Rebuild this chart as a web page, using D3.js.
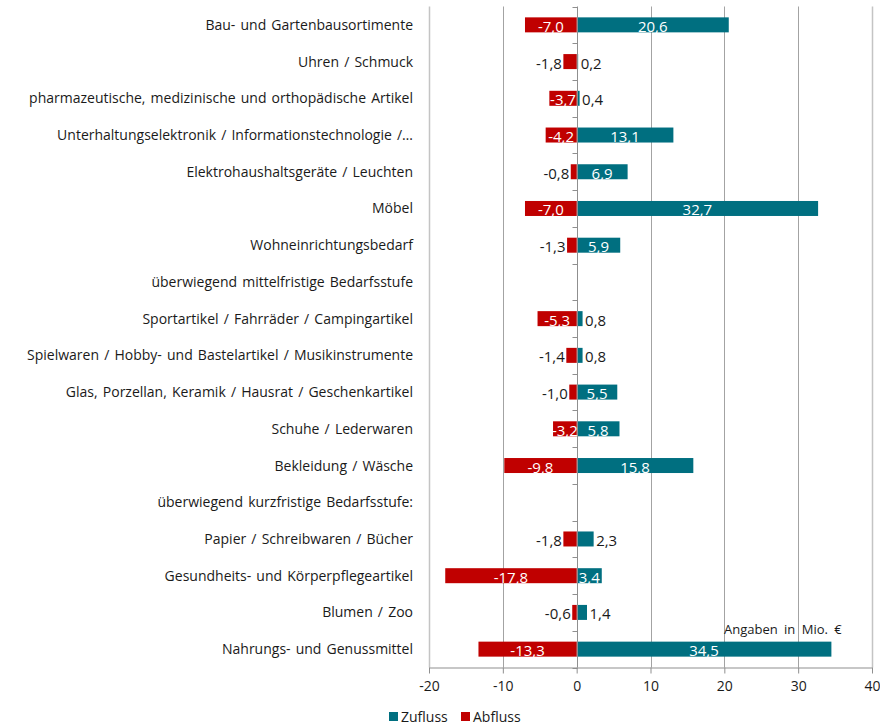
<!DOCTYPE html>
<html>
<head>
<meta charset="utf-8">
<script src="https://cdn.jsdelivr.net/npm/d3@7"></script>
<style>
  html, body { margin: 0; padding: 0; background: #fff; }
  svg { display: block; }
  text { font-family: "Open Sans", "Noto Sans", sans-serif; }
</style>
</head>
<body>
<svg id="chart" width="880" height="726"></svg>
<script>
// Sortimente (von oben nach unten)
const categories = [
  "Bau- und Gartenbausortimente",
  "Uhren / Schmuck",
  "pharmazeutische, medizinische und orthopädische Artikel",
  "Unterhaltungselektronik / Informationstechnologie /…",
  "Elektrohaushaltsgeräte / Leuchten",
  "Möbel",
  "Wohneinrichtungsbedarf",
  "überwiegend mittelfristige Bedarfsstufe",
  "Sportartikel / Fahrräder / Campingartikel",
  "Spielwaren / Hobby- und Bastelartikel / Musikinstrumente",
  "Glas, Porzellan, Keramik / Hausrat / Geschenkartikel",
  "Schuhe / Lederwaren",
  "Bekleidung / Wäsche",
  "überwiegend kurzfristige Bedarfsstufe:",
  "Papier / Schreibwaren / Bücher",
  "Gesundheits- und Körperpflegeartikel",
  "Blumen / Zoo",
  "Nahrungs- und Genussmittel"
];

// Kaufkraftzufluss (Mio. €)
const zufluss = [20.6, 0.2, 0.4, 13.1, 6.9, 32.7, 5.9, null, 0.8, 0.8, 5.5, 5.8, 15.8, null, 2.3, 3.4, 1.4, 34.5];
// Kaufkraftabfluss (Mio. €)
const abfluss = [-7.0, -1.8, -3.7, -4.2, -0.8, -7.0, -1.3, null, -5.3, -1.4, -1.0, -3.2, -9.8, null, -1.8, -17.8, -0.6, -13.3];

const xTicks = [-20, -10, 0, 10, 20, 30, 40];
const seriesNames = ["Zufluss", "Abfluss"];
const unitNote = "Angaben in Mio. €";

const colors = { Zufluss: "#006F80", Abfluss: "#C00000" };

const svg = d3.select("#chart");
const plot = { left: 429, right: 872, top: 6.5, bottom: 667.5 };

const x = d3.scaleLinear().domain([-20, 40]).range([plot.left, plot.right]);
const slot = d3.scaleBand().domain(categories).range([plot.top, plot.bottom]).padding(0);
const barH = 15;
const barY = c => slot(c) + (slot.bandwidth() - barH) / 2;
const midY = c => slot(c) + slot.bandwidth() / 2;

const locale = d3.formatLocale({ decimal: ",", thousands: ".", grouping: [3], currency: ["", " €"], minus: "-" });
const fmt = locale.format(".1f");

// vertical gridlines
svg.append("g")
  .selectAll("line")
  .data(xTicks.filter(t => t !== 0))
  .join("line")
  .attr("x1", d => Math.round(x(d)) + 0.5)
  .attr("x2", d => Math.round(x(d)) + 0.5)
  .attr("y1", plot.top)
  .attr("y2", plot.bottom)
  .attr("stroke", d => (d === -20 || d === 40) ? "#c4c4c4" : "#a3a3a3")
  .attr("stroke-width", d => (d === -20 || d === 40) ? 1.5 : 1);

// bars
const rows = categories.map((c, i) => ({ c, z: zufluss[i], a: abfluss[i] }));

const gBars = svg.append("g");
rows.filter(r => r.z != null).forEach(r => {
  gBars.append("rect")
    .attr("x", x(0))
    .attr("y", barY(r.c))
    .attr("width", x(r.z) - x(0))
    .attr("height", barH)
    .attr("fill", colors.Zufluss);
});
rows.filter(r => r.a != null).forEach(r => {
  gBars.append("rect")
    .attr("x", x(r.a))
    .attr("y", barY(r.c))
    .attr("width", x(0) - x(r.a))
    .attr("height", barH)
    .attr("fill", colors.Abfluss);
});

// zero axis line with category ticks
const zx = Math.round(x(0)) + 0.5;
const gZero = svg.append("g").attr("stroke", "#8f8f8f");
gZero.append("line").attr("x1", zx).attr("x2", zx).attr("y1", plot.top).attr("y2", plot.bottom);
const bounds = categories.map(c => slot(c)).concat([plot.bottom]);
gZero.selectAll("line.tk").data(bounds).join("line").attr("class", "tk")
  .attr("x1", zx - 5).attr("x2", zx)
  .attr("y1", d => Math.round(d) + 0.5).attr("y2", d => Math.round(d) + 0.5);

// value labels
const gLab = svg.append("g").attr("font-size", 15);
function label(v, c) {
  const inside = Math.abs(v) >= 3;
  const t = gLab.append("text").text(fmt(v)).attr("y", midY(c) + 7);
  if (inside) {
    t.attr("x", (x(0) + x(v)) / 2).attr("text-anchor", "middle").attr("fill", "#ffffff");
  } else if (v < 0) {
    t.attr("x", x(v) - 1.5).attr("text-anchor", "end").attr("fill", "#1a1a1a");
  } else {
    t.attr("x", x(v) + 2.5).attr("text-anchor", "start").attr("fill", "#1a1a1a");
  }
}
rows.forEach(r => {
  if (r.a != null) label(r.a, r.c);
  if (r.z != null) label(r.z, r.c);
});

// category labels
svg.append("g")
  .attr("font-size", 14)
  .attr("fill", "#1a1a1a")
  .attr("text-anchor", "end")
  .style("word-spacing", "1.5px")
  .selectAll("text")
  .data(categories)
  .join("text")
  .attr("x", 413)
  .attr("y", d => midY(d) + 5)
  .text(d => d);

// bottom axis
const axisB = svg.append("g")
  .attr("transform", `translate(0,${Math.round(plot.bottom) - 0.5})`)
  .call(d3.axisBottom(x).tickValues(xTicks).tickFormat(d => String(d)).tickSize(6).tickSizeOuter(0));
axisB.select(".domain").attr("stroke", "#8f8f8f");
axisB.selectAll(".tick line").attr("stroke", "#8f8f8f");
axisB.selectAll(".tick text")
  .attr("font-size", 14)
  .attr("font-family", "'Open Sans', 'Noto Sans', sans-serif")
  .attr("fill", "#1a1a1a")
  .attr("dy", "1.05em");

// unit note
svg.append("text")
  .attr("x", 724).attr("y", 634)
  .attr("font-size", 13)
  .attr("fill", "#1a1a1a")
  .style("word-spacing", "3px")
  .text(unitNote);

// legend
const leg = svg.append("g").attr("transform", "translate(389,712)");
const legX = [0, 72];
seriesNames.forEach((s, i) => {
  leg.append("rect").attr("x", legX[i]).attr("y", 0).attr("width", 9).attr("height", 9).attr("fill", colors[s]);
  leg.append("text").attr("x", legX[i] + 12).attr("y", 10).attr("font-size", 14).attr("fill", "#1a1a1a").text(s);
});
</script>
</body>
</html>
